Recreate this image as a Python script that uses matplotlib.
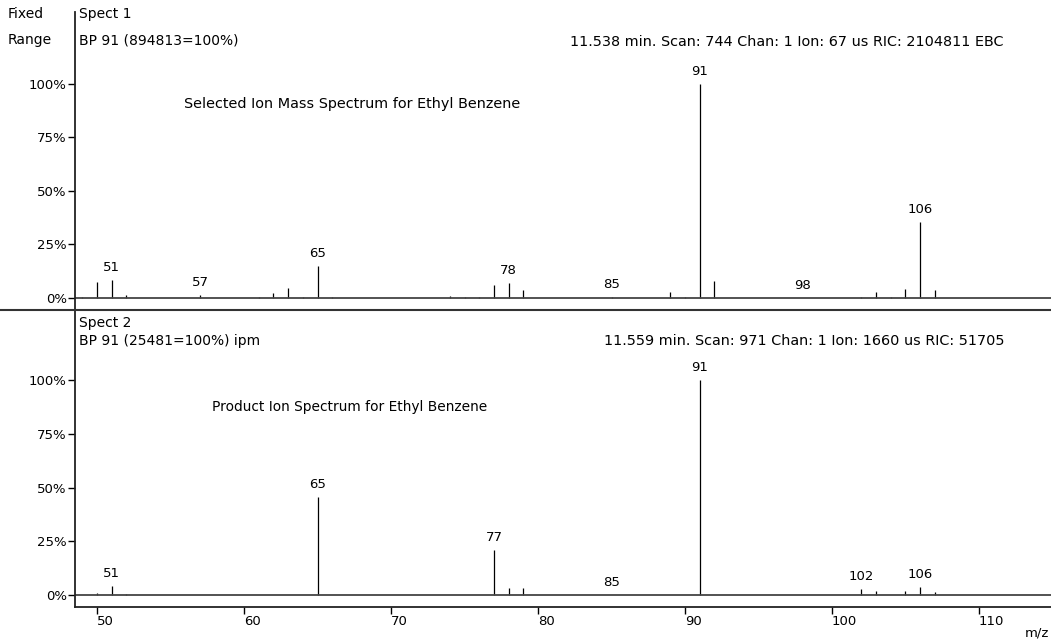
import matplotlib
matplotlib.use('Agg')
import matplotlib.pyplot as plt
from matplotlib.lines import Line2D

# spectrum 1: selected ion mass spectrum (relative abundance, %)
sel_mz = [49, 50, 51, 52, 57, 61, 62, 63, 64, 65, 66, 74, 75, 76, 77, 78, 79,
          85, 89, 90, 91, 92, 98, 102, 103, 104, 105, 106, 107]
sel_int = [0.5, 7.5, 8.4, 1.5, 1.4, 0.5, 2.3, 4.7, 0.5, 15.0, 0.5, 1.0, 0.5,
           0.5, 6.0, 7.0, 3.9, 0.4, 2.8, 0.5, 100, 7.8, 0.2, 0.5, 2.8, 0.5,
           4.2, 35.5, 3.6]
sel_labels = [51, 57, 65, 78, 85, 91, 98, 106]

# spectrum 2: product ion spectrum
prod_mz = [50, 51, 52, 65, 77, 78, 79, 85, 91, 102, 103, 105, 106, 107]
prod_int = [1.0, 4.2, 0.5, 45.5, 21.0, 3.4, 3.4, 0.2, 100, 2.8, 1.9, 1.9,
            3.7, 1.4]
prod_labels = [51, 65, 77, 85, 91, 102, 106]

pct_ticks = [0, 25, 50, 75, 100]
mz_ticks = [50, 60, 70, 80, 90, 100, 110]

W, H = 1051, 642
FS = 9.5
plt.rcParams['font.family'] = ['DejaVu Sans']
plt.rcParams['font.size'] = FS

fig = plt.figure(figsize=(W / 100, H / 100), dpi=100)


def px(x, y):
    return x / W, 1 - y / H


def axes_box(top, bottom):
    return [75 / W, 1 - bottom / H, 1 - 75 / W, (bottom - top) / H]


def draw_spectrum(ax, mz, inten, labels, ylim):
    ax.vlines(mz, 0, inten, color='black', lw=0.9)
    ax.axhline(0, color='#444444', lw=1.3)
    for m in labels:
        h = inten[mz.index(m)]
        ax.annotate(str(m), (m, h), xytext=(0, 6), textcoords='offset pixels',
                    ha='center', va='bottom', fontsize=FS)
    ax.set_xlim(48.5, 114.9)
    ax.set_ylim(*ylim)
    ax.set_yticks(pct_ticks)
    ax.set_yticklabels([f'{t}%' for t in pct_ticks])
    ax.tick_params(axis='y', direction='out', length=5, width=1, pad=1)
    for s in ['top', 'right']:
        ax.spines[s].set_visible(False)
    ax.spines['left'].set_linewidth(1.3)
    ax.spines['left'].set_color('#222222')


ax1 = fig.add_axes(axes_box(12, 310))
draw_spectrum(ax1, sel_mz, sel_int, sel_labels, (-5.6, 133.6))
ax1.spines['bottom'].set_visible(False)
ax1.set_xticks([])

ax2 = fig.add_axes(axes_box(310, 607))
draw_spectrum(ax2, prod_mz, prod_int, prod_labels, (-5.6, 132.6))
ax2.spines['bottom'].set_linewidth(1.3)
ax2.spines['bottom'].set_color('#222222')
ax2.set_xticks(mz_ticks)
ax2.set_xticklabels([str(t) for t in mz_ticks], ha='left')
ax2.tick_params(axis='x', direction='out', length=5, width=1, pad=1)

# separator between the two spectra, full width
fig.add_artist(Line2D([0, 1], [1 - 310 / H] * 2, color='#333333', lw=1.5))

txt = dict(va='center', ha='left', fontsize=10)
fig.text(*px(8, 14), 'Fixed', **txt)
fig.text(*px(8, 40), 'Range', **txt)
fig.text(*px(79, 14), 'Spect 1', **txt)
fig.text(*px(79, 41), 'BP 91 (894813=100%)', **txt)
fig.text(*px(1004, 42),
         '11.538 min. Scan: 744 Chan: 1 Ion: 67 us RIC: 2104811 EBC',
         va='center', ha='right', fontsize=10.4)
fig.text(*px(352, 104), 'Selected Ion Mass Spectrum for Ethyl Benzene',
         va='center', ha='center', fontsize=10.4)

fig.text(*px(79, 323), 'Spect 2', **txt)
fig.text(*px(79, 341), 'BP 91 (25481=100%) ipm', **txt)
fig.text(*px(1004, 341),
         '11.559 min. Scan: 971 Chan: 1 Ion: 1660 us RIC: 51705',
         va='center', ha='right', fontsize=10.4)
fig.text(*px(350, 407), 'Product Ion Spectrum for Ethyl Benzene',
         va='center', ha='center', fontsize=9.9)

fig.text(*px(1025, 633), 'm/z', va='center', ha='left', fontsize=FS)

fig.savefig('out.png', dpi=100)
